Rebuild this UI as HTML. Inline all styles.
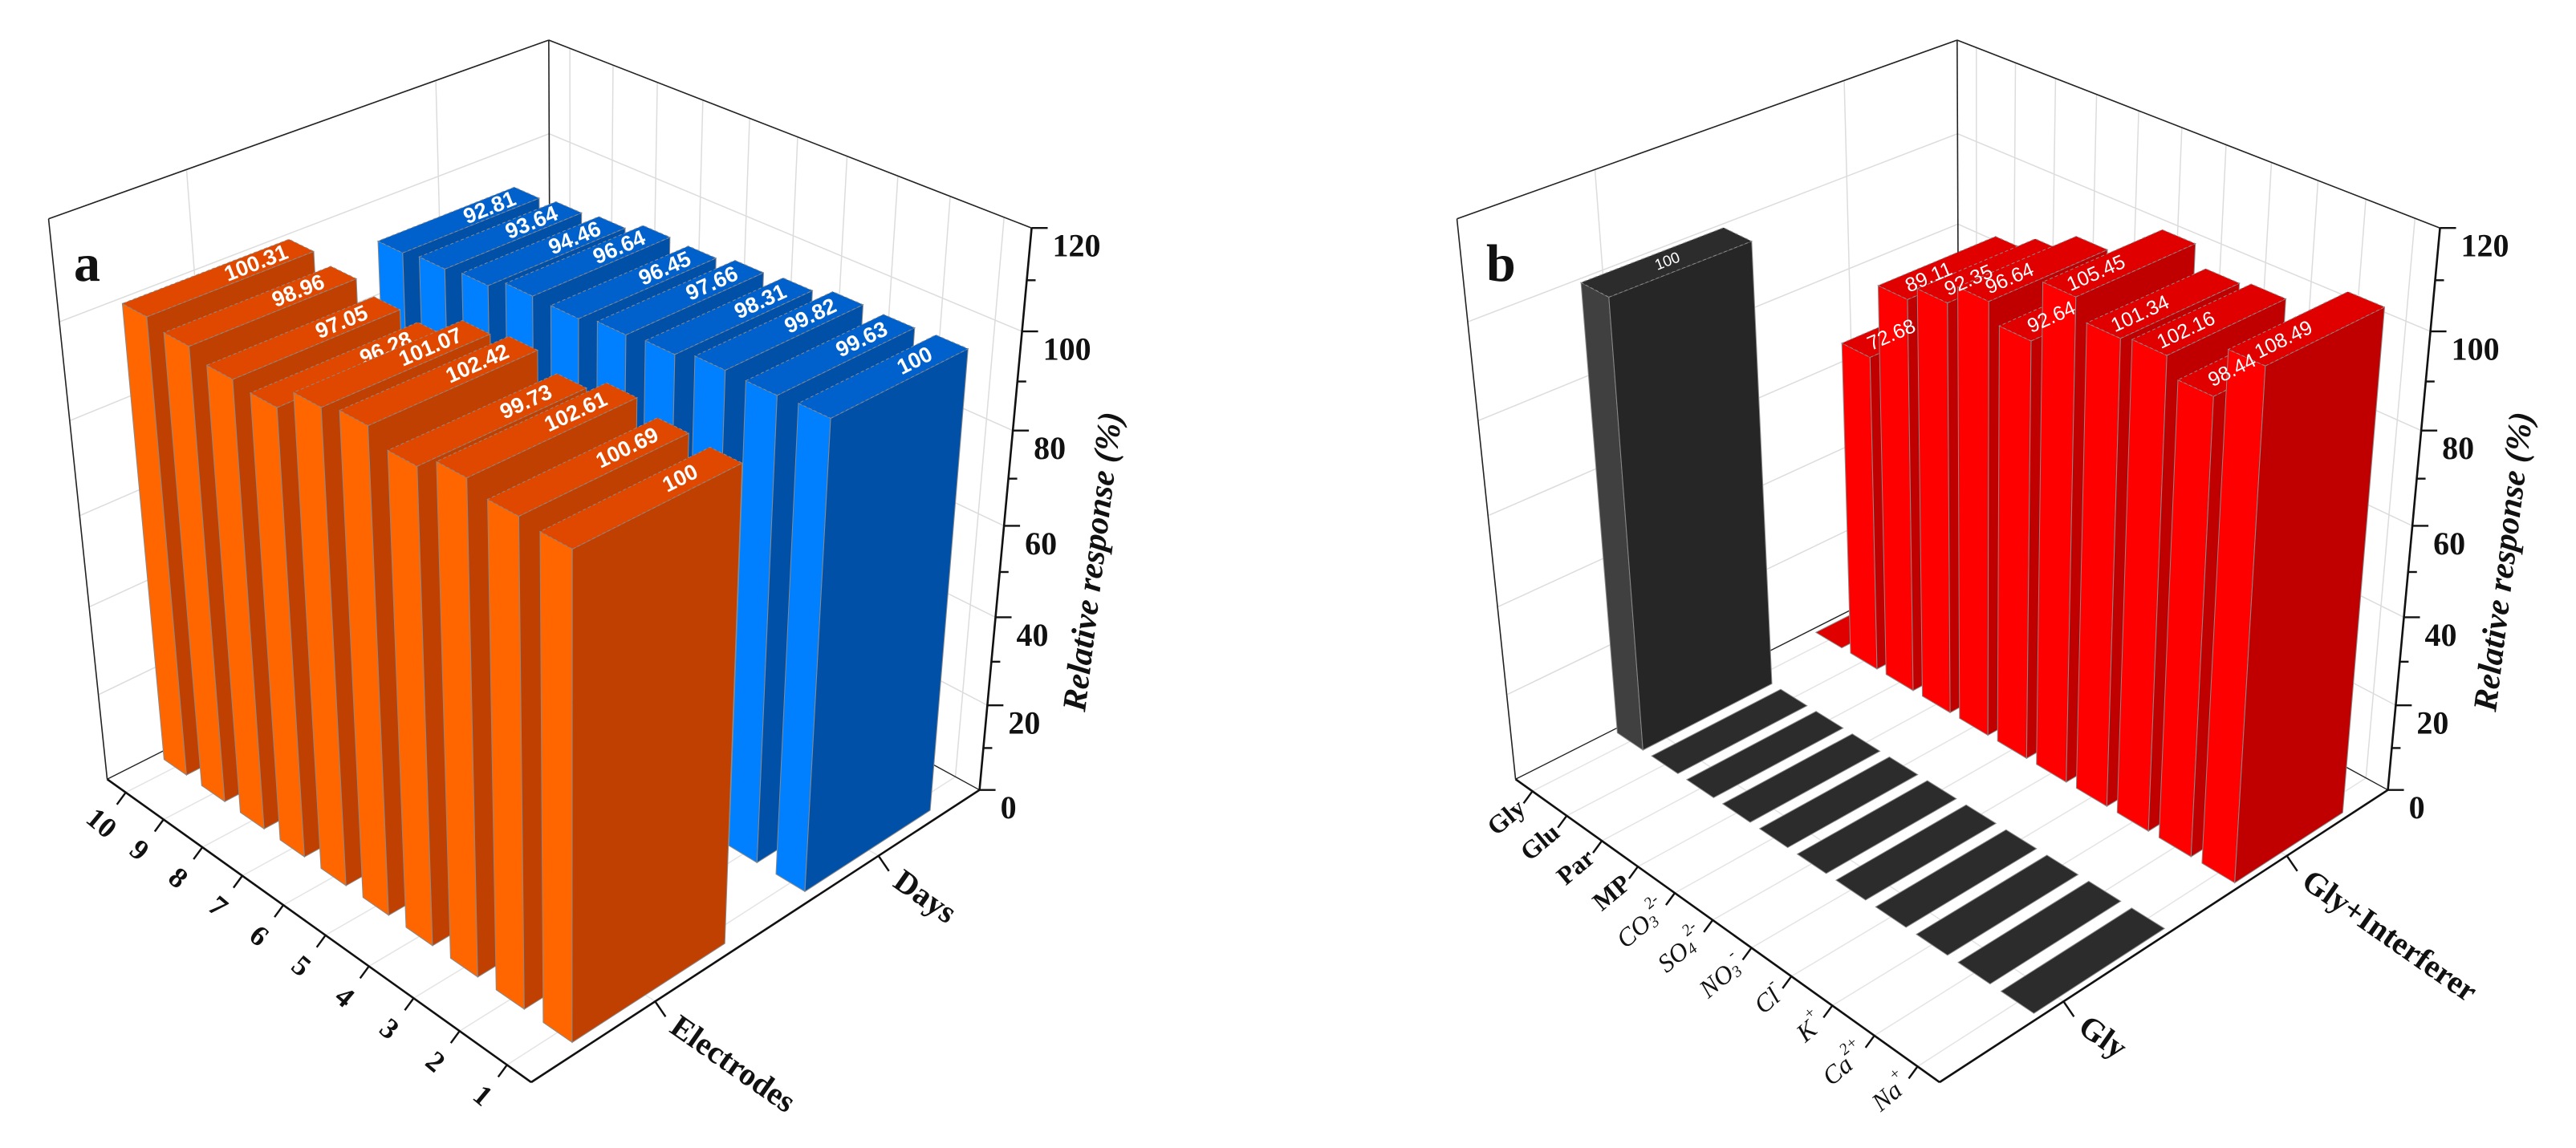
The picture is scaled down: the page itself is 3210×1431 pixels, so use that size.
<!DOCTYPE html>
<html><head><meta charset="utf-8"><title>Relative response 3D bars</title>
<style>
html,body{margin:0;padding:0;background:#fff;}
svg{display:block;}
</style></head>
<body>
<svg id="chart" xmlns="http://www.w3.org/2000/svg" width="3210" height="1431" viewBox="0 0 3210 1431">
<rect x="0" y="0" width="3210" height="1431" fill="#fff"/>
</svg>
<script>
// ---------- data ----------
const electrodeIdx = [1,2,3,4,5,6,7,8,9,10];
const electrodeVals = [100,100.69,102.61,99.73,102.42,101.07,96.28,97.05,98.96,100.31];
const dayVals = [100,99.63,99.82,98.31,97.66,96.45,96.64,94.46,93.64,92.81];
const ionNames = ['Gly','Glu','Par','MP','CO3','SO4','NO3','Cl','K','Ca','Na'];
const glyVals = [100,0,0,0,0,0,0,0,0,0,0];
const glyIntVals = [0,72.68,89.11,92.35,96.64,92.64,105.45,101.34,102.16,98.44,108.49];
const valueTicks = [0,20,40,60,80,100,120];
const zMax = 120;

const NS='http://www.w3.org/2000/svg';
const svg=document.getElementById('chart');

// ---------- camera (DLT from box corners) ----------
function solveCamera(){
  const pts=[[0,0,0,661,1349],[1,0,0,134,972],[0,1,0,1221,984],[1,0,1,61,272],[0,1,1,1286,285],[1,1,1,683,50]];
  const A=[],B=[];
  pts.forEach(p=>{const [X,Y,Z,u,v]=p;
    A.push([X,Y,Z,1,0,0,0,0,-u*X,-u*Y,-u*Z]);B.push(u);
    A.push([0,0,0,0,X,Y,Z,1,-v*X,-v*Y,-v*Z]);B.push(v);});
  const n=11;const M=[];
  for(let i=0;i<n;i++){M.push([]);for(let j=0;j<n;j++){let s=0;for(let k=0;k<A.length;k++)s+=A[k][i]*A[k][j];M[i].push(s);}
    let s=0;for(let k=0;k<A.length;k++)s+=A[k][i]*B[k];M[i].push(s);}
  for(let c=0;c<n;c++){let piv=c;for(let r=c+1;r<n;r++)if(Math.abs(M[r][c])>Math.abs(M[piv][c]))piv=r;
    [M[c],M[piv]]=[M[piv],M[c]];
    for(let r=0;r<n;r++){if(r===c)continue;const f=M[r][c]/M[c][c];for(let j=c;j<=n;j++)M[r][j]-=f*M[c][j];}}
  return M.map((row,i)=>row[n]/row[i]);
}
const P=solveCamera();
function proj(a,b,z,ox){
  const w=P[8]*a+P[9]*b+P[10]*z+1;
  return [(P[0]*a+P[1]*b+P[2]*z+P[3])/w+ox,(P[4]*a+P[5]*b+P[6]*z+P[7])/w,w];
}
const depthSign = proj(1,1,0,0)[2] > proj(0,0,0,0)[2] ? 1 : -1;

function mk(tag,attrs,parent){const e=document.createElementNS(NS,tag);for(const k in attrs)e.setAttribute(k,attrs[k]);(parent||svg).appendChild(e);return e;}
function poly(pts){return pts.map(p=>p[0].toFixed(1)+','+p[1].toFixed(1)).join(' ');}
function line(p,q,stroke,w,g){return mk('line',{x1:p[0],y1:p[1],x2:q[0],y2:q[1],stroke:stroke,'stroke-width':w},g);}

function drawPanel(cfg){
  const ox=cfg.ox;
  const g=mk('g',{});
  
  
  const pr=(a,b,z)=>proj(a,b,z,ox);

  const grid=mk('g',{},g);
  
  
  valueTicks.forEach(t=>{ if(t===0) return; const z=t/zMax;
    line(pr(1,0,z),pr(1,1,z),'#dcdcdc',1.5,grid);
    line(pr(1,1,z),pr(0,1,z),'#dcdcdc',1.5,grid);});
  cfg.catB.forEach(b=>{ line(pr(1,b,0),pr(1,b,1),'#dcdcdc',1.5,grid); line(pr(0,b,0),pr(1,b,0),'#e4e4e4',1.5,grid);});
  cfg.aPos.forEach(a=>{ line(pr(a,1,0),pr(a,1,1),'#dcdcdc',1.5,grid); line(pr(a,0,0),pr(a,1,0),'#e4e4e4',1.5,grid);});

  const box=mk('g',{},g);
  
  
  line(pr(1,0,0),pr(1,0,1),'#222',1.6,box);
  line(pr(1,1,0),pr(1,1,1),'#222',1.6,box);
  line(pr(1,0,1),pr(1,1,1),'#222',1.6,box);
  line(pr(1,1,1),pr(0,1,1),'#222',1.6,box);
  line(pr(1,0,0),pr(1,1,0),'#222',1.4,box);
  line(pr(1,1,0),pr(0,1,0),'#222',1.4,box);

  const bars=[];
  cfg.series.forEach(s=>{
    s.vals.forEach((v,k)=>{
      const a=cfg.aPos[k];
      bars.push({a0:a-cfg.half,a1:a+cfg.half,b0:s.b0,b1:s.b1,z:v/zMax,v:v,s:s,k:k,
        d:pr(a,(s.b0+s.b1)/2,v/zMax/2)[2]*depthSign});
    });
  });
  bars.sort((p,q)=>q.d-p.d);
  const bg=mk('g',{},g);
  
  
  const lateLabels=[];
  function drawLabel(bar,parent){
    const {a0,a1,b0,b1,z,s}=bar;
    const am=(a0+a1)/2, bm=b0+s.lblPos*(b1-b0);
    const p=pr(am,bm,z), q=pr(am,bm+0.05,z);
    const ang=Math.atan2(q[1]-p[1],q[0]-p[0])*180/Math.PI;
    const t=mk('text',{x:p[0],y:p[1],fill:'#fff','font-family':'"Liberation Sans",Arial,sans-serif','font-size':s.fs,'font-weight':s.fw,'text-anchor':'middle','dominant-baseline':'central',transform:'rotate('+ang.toFixed(2)+' '+p[0].toFixed(1)+' '+p[1].toFixed(1)+')'},parent);
    t.textContent=String(bar.v);
    
    
  }
  bars.forEach(bar=>{
    const {a0,a1,b0,b1,z,s}=bar;
    const bgp=mk('g',{},bg);
    
    
    if(z>0.001){
      const side=mk('polygon',{points:poly([pr(a0,b0,0),pr(a1,b0,0),pr(a1,b0,z),pr(a0,b0,z)]),fill:s.side,stroke:'#8a8a8a','stroke-width':1},bgp);
      
      
      const front=mk('polygon',{points:poly([pr(a0,b0,0),pr(a0,b1,0),pr(a0,b1,z),pr(a0,b0,z)]),fill:s.front,stroke:'#8a8a8a','stroke-width':1},bgp);
      
      
    }
    const top=mk('polygon',{points:poly([pr(a0,b0,z),pr(a0,b1,z),pr(a1,b1,z),pr(a1,b0,z)]),fill:s.top,stroke:'#8a8a8a','stroke-width':1,'stroke-dasharray':z>0.001?'4,3':'none'},bgp);
    
    
    if(s.labels && bar.v>0){
      if(cfg.labelsOnTop) lateLabels.push(bar); else drawLabel(bar,bgp);
    }
  });
  if(lateLabels.length){
    const lg=mk('g',{},g);
    
    
    lateLabels.forEach(b=>drawLabel(b,lg));
  }

  const ax=mk('g',{},g);
  
  
  line(pr(1,0,0),pr(0,0,0),'#111',2.6,ax);
  line(pr(0,0,0),pr(0,1,0),'#111',2.6,ax);
  line(pr(0,1,0),pr(0,1,1),'#111',2.6,ax);
  cfg.aPos.forEach((a,k)=>{
    const p=pr(a,0,0);
    line(p,[p[0]-11,p[1]+15],'#111',2.4,ax);
    const lx=p[0]+cfg.tickDx, ly=p[1]+cfg.tickDy;
    const t=mk('text',{x:lx,y:ly,'font-family':'"Liberation Serif","Times New Roman",serif','font-size':cfg.tickFs,'font-weight':'bold',fill:'#111','text-anchor':cfg.tickAnchor,'dominant-baseline':'central',transform:'rotate('+cfg.tickRot+' '+lx.toFixed(1)+' '+ly.toFixed(1)+')'},ax);
    cfg.tickText(t,k);
    
    
  });
  cfg.catB.forEach((b,k)=>{
    const p=pr(0,b,0);
    line(p,[p[0]+13,p[1]+19],'#111',2.4,ax);
    const lx=p[0]+24, ly=p[1]+26;
    const t=mk('text',{x:lx,y:ly,'font-family':'"Liberation Serif","Times New Roman",serif','font-size':40,'font-weight':'bold',fill:'#111','text-anchor':'start','dominant-baseline':'central',transform:'rotate(35 '+lx.toFixed(1)+' '+ly.toFixed(1)+')'},ax);
    t.textContent=cfg.catNames2[k];
    
    
  });
  for(let v=0;v<=zMax;v+=10){
    const p=pr(0,1,v/zMax);
    const major=v%20===0;
    line(p,[p[0]+(major?20:11),p[1]],'#111',2.4,ax);
  }
  valueTicks.forEach(v=>{
    const p=pr(0,1,v/zMax);
    const t=mk('text',{x:p[0]+26,y:p[1]+22,'font-family':'"Liberation Serif","Times New Roman",serif','font-size':40,'font-weight':'bold',fill:'#111','text-anchor':'start','dominant-baseline':'central'},ax);
    t.textContent=String(v);
    
    
  });
  const tx=cfg.titleX, ty=700;
  const tt=mk('text',{x:tx,y:ty,'font-family':'"Liberation Serif","Times New Roman",serif','font-size':42,'font-weight':'bold','font-style':'italic',fill:'#111','text-anchor':'middle','dominant-baseline':'central',transform:'rotate(-83 '+tx+' '+ty+')'},ax);
  tt.textContent='Relative response (%)';
  
  
  const pl=mk('text',{x:cfg.letterX,y:350,'font-family':'"Liberation Serif","Times New Roman",serif','font-size':66,'font-weight':'bold',fill:'#111'},g);
  pl.textContent=cfg.letter;
  
  
}

// panel a
const aPosA = electrodeIdx.map(i=>(i-0.5)/10);
drawPanel({name:'panel-a',ox:0,letter:'a',letterX:92,titleX:1362,labelsOnTop:false,
  aPos:aPosA,half:0.03,catB:[0.25,0.75],catNames:electrodeIdx.map(String),catNames2:['Electrodes','Days'],
  tickDx:-30,tickDy:38,tickRot:40,tickAnchor:'middle',tickFs:36,
  tickText:(t,k)=>{t.textContent=String(electrodeIdx[k]);},
  series:[
    {key:'electrodes',vals:electrodeVals,b0:0.1,b1:0.42,side:'#FF6600',front:'#BF4000',top:'#E04800',labels:true,lblPos:0.72,fs:27,fw:'bold'},
    {key:'days',vals:dayVals,b0:0.6,b1:0.9,side:'#0080FF',front:'#0050A8',top:'#0060CC',labels:true,lblPos:0.72,fs:27,fw:'bold'}
  ]});

// panel b
const aPosB = ionNames.map((n,k)=>1-(k+0.5)/11);
const ionSup = {'CO3':['CO','3','2-'],'SO4':['SO','4','2-'],'NO3':['NO','3','-'],'Cl':['Cl','','-'],'K':['K','','+'],'Ca':['Ca','','2+'],'Na':['Na','','+']};
drawPanel({name:'panel-b',ox:1755,letter:'b',letterX:1852,titleX:3120,labelsOnTop:true,
  aPos:aPosB,half:0.034,catB:[0.25,0.75],catNames:ionNames,catNames2:['Gly','Gly+Interferer'],
  tickDx:-14,tickDy:16,tickRot:-40,tickAnchor:'end',tickFs:32,
  tickText:(t,k)=>{const n=ionNames[k];
    if(ionSup[n]){const [base,sub,sup]=ionSup[n];t.setAttribute('font-style','italic');t.setAttribute('font-weight','normal');
      t.textContent=base;
      if(sub){const s1=document.createElementNS(NS,'tspan');s1.setAttribute('font-size','20');s1.setAttribute('dy','8');s1.textContent=sub;t.appendChild(s1);}
      const s2=document.createElementNS(NS,'tspan');s2.setAttribute('font-size','20');s2.setAttribute('dy',sub?'-22':'-14');s2.textContent=sup;t.appendChild(s2);
    } else t.textContent=n;},
  series:[
    {key:'gly',vals:glyVals,b0:0.2,b1:0.48,side:'#404040',front:'#262626',top:'#2c2c2c',labels:true,lblPos:0.5,fs:19,fw:'normal'},
    {key:'gly-interferer',vals:glyIntVals,b0:0.64,b1:0.9,side:'#FF0000',front:'#C00000',top:'#E00000',labels:true,lblPos:0.3,fs:25,fw:'normal'}
  ]});
</script>
</body></html>
